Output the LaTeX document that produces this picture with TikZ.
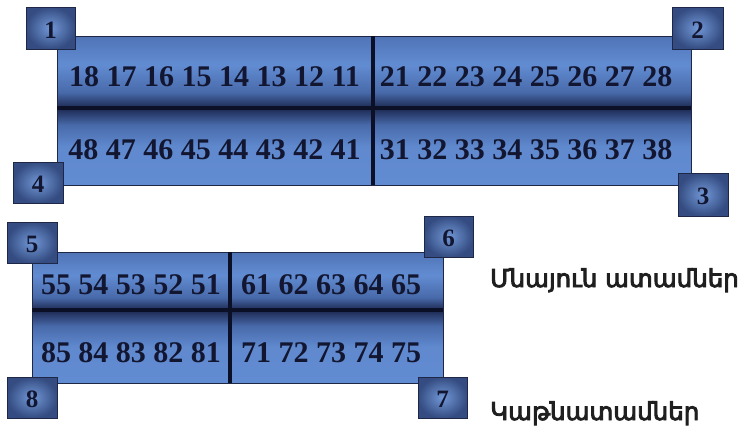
\documentclass[tikz,border=0pt]{standalone}
\usepackage{fontspec}
\setmainfont{Liberation Serif}
\newfontfamily\armfont{DejaVu Sans}
\newcommand{\heavytxt}[1]{\special{pdf:literal direct 2 Tr 0.9 w}#1\special{pdf:literal direct 0 Tr 0 w}}
\definecolor{plight}{RGB}{98,140,210}
\definecolor{pmid}{RGB}{72,106,170}
\definecolor{pdark}{RGB}{28,40,80}
\definecolor{bline}{RGB}{12,16,38}
\definecolor{btext}{RGB}{18,22,48}
\definecolor{bedge}{RGB}{30,40,70}
\pgfdeclareverticalshading{rowupper}{100bp}{color(0bp)=(pdark); color(25bp)=(pdark); color(36bp)=(pmid); color(55bp)=(plight); color(75bp)=(pmid!70!plight); color(100bp)=(pmid!70!plight)}
\pgfdeclareverticalshading{rowlower}{100bp}{color(0bp)=(plight); color(25bp)=(plight); color(50bp)=(plight!90!pmid); color(64bp)=(pmid); color(75bp)=(pdark); color(100bp)=(pdark)}
\tikzset{
  rowA/.style={shading=rowupper},
  rowB/.style={shading=rowlower},
  panelborder/.style={draw=bedge, line width=0.8pt},
  divider/.style={draw=bline, line width=4pt},
  nums/.style={font=\bfseries\fontsize{30}{30}\selectfont, text=btext, inner sep=0pt},
  tagbox/.style={inner color=plight!90!white, outer color=pmid!55!pdark},
  tagedge/.style={draw=bedge, line width=0.8pt},
  tagnum/.style={font=\bfseries\fontsize{25}{25}\selectfont, text=btext, inner sep=0pt},
  armlabel/.style={font=\armfont\fontsize{24.5}{24.5}\selectfont, text=black!88, anchor=base west, inner sep=0pt}
}
\begin{document}
\begin{tikzpicture}[x=1pt,y=-1pt]
\useasboundingbox[fill=white] (0,0) rectangle (750,429);
% top panel
\shade[rowA] (57,36) rectangle (691,108);
\shade[rowB] (57,108) rectangle (691,185);
\draw[panelborder] (57,36) rectangle (691,185);
\draw[divider] (57,108) -- (691,108);
\draw[divider] (373,36) -- (373,185);
\node[nums] (r18) at (214.5,77) {18 17 16 15 14 13 12 11};
\node[nums] (r21) at (526,77) {21 22 23 24 25 26 27 28};
\node[nums] (r48) at (214.5,150) {48 47 46 45 44 43 42 41};
\node[nums] (r31) at (526,150) {31 32 33 34 35 36 37 38};
% bottom panel
\shade[rowA] (32,252) rectangle (443,310);
\shade[rowB] (32,310) rectangle (443,383);
\draw[panelborder] (32,252) rectangle (443,383);
\draw[divider] (32,310) -- (443,310);
\draw[divider] (230,252) -- (230,383);
\node[nums] (r55) at (131,285) {55 54 53 52 51};
\node[nums] (r61) at (331,285) {61 62 63 64 65};
\node[nums] (r85) at (131,353) {85 84 83 82 81};
\node[nums] (r71) at (331,353) {71 72 73 74 75};
% corner tags
\shade[tagbox] (26,7) rectangle (75,49);   \node[tagnum] (t1) at (50.5,30) {1};
\shade[tagbox] (672,7) rectangle (723,49); \node[tagnum] (t2) at (697.5,30) {2};
\shade[tagbox] (678,173) rectangle (728,216); \node[tagnum] (t3) at (703,196) {3};
\shade[tagbox] (13,162) rectangle (63,203); \node[tagnum] (t4) at (38,184) {4};
\shade[tagbox] (7,222) rectangle (57,263); \node[tagnum] (t5) at (32,244) {5};
\shade[tagbox] (424,216) rectangle (473,257); \node[tagnum] (t6) at (448.5,238) {6};
\shade[tagbox] (418,377) rectangle (467,418); \node[tagnum] (t7) at (442.5,399) {7};
\shade[tagbox] (7,377) rectangle (57,418); \node[tagnum] (t8) at (32,399) {8};
\draw[tagedge] (26,7) rectangle (75,49) (672,7) rectangle (723,49) (678,173) rectangle (728,216) (13,162) rectangle (63,203) (7,222) rectangle (57,263) (424,216) rectangle (473,257) (418,377) rectangle (467,418) (7,377) rectangle (57,418);
% labels
\node[armlabel] (lperm) at (490,287) {\heavytxt{Մնայուն ատամներ}};
\node[armlabel] (lmilk) at (490,420) {\heavytxt{Կաթնատամներ}};
\end{tikzpicture}
\end{document}
